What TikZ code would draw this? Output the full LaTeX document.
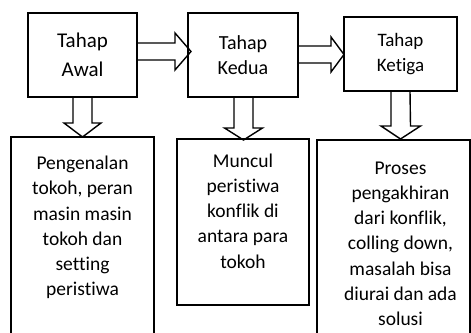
\documentclass[tikz,border=0pt]{standalone}
\usepackage{fontspec}
\setmainfont{Carlito}[Ligatures={NoCommon,NoRequired,NoContextual,NoRare,NoDiscretionary}]
\usetikzlibrary{calc}
\begin{document}
\begin{tikzpicture}[x=1pt,y=-1pt,
  box/.style={draw,line width=1.4pt,inner sep=0pt,outer sep=0pt,anchor=north west,align=center},
  txt/.style={align=center,inner sep=0pt,font=\fontsize{19.5}{25.2}\selectfont},
  blk/.style={draw,line width=1.4pt,line join=miter}]
\useasboundingbox (0,0) rectangle (471,332);
% upper boxes
\node[box,minimum width=109pt,minimum height=84pt,font=\fontsize{21}{29}\selectfont] (b1) at (28,13) {Tahap\\Awal};
\node[box,minimum width=110pt,minimum height=84pt,font=\fontsize{20}{25}\selectfont] (b2) at (188,13) {Tahap\\Kedua};
\node[box,minimum width=113pt,minimum height=74pt,font=\fontsize{19}{25}\selectfont] (b3) at (344,17) {Tahap\\Ketiga};
% lower boxes
\node[box,minimum width=143pt,minimum height=210pt] (b4) at (11,137) {};
\node[box,minimum width=132pt,minimum height=166pt] (b5) at (177,139) {};
\node[box,minimum width=153pt,minimum height=210pt] (b6) at (317,140) {};
% texts of lower boxes
\node[txt] (t4) at (82.5,227.5) {Pengenalan\\tokoh, peran\\masin masin\\tokoh dan\\setting\\peristiwa};
\node[txt] (t5) at (243,211) {Muncul\\peristiwa\\konflik di\\antara para\\tokoh};
\node[txt] (t6) at (400.5,243.7) {Proses\\pengakhiran\\dari konflik,\\colling down,\\masalah bisa\\diurai dan ada\\solusi};
% horizontal block arrows
\draw[blk] ($(b1.east)+(0,-12)$) -- ++(38,0) -- ++(0,-10) -- ($(b1.east)+(54,-3.5)$)
  -- ($(b1.east)+(38,15)$) -- ++(0,-10) -- ($(b1.east)+(0,5)$);
\draw[blk] ($(b2.east)+(0,-9)$) -- ++(33,0) -- ++(0,-9) -- ($(b2.east)+(46,-0.5)$)
  -- ($(b2.east)+(33,17)$) -- ++(0,-9) -- ($(b2.east)+(0,8)$);
% vertical block arrows
\draw[blk] ($(b1.south)+(-9.5,0)$) -- ++(0,26) -- ++(-9,0) -- ($(b1.south)+(0,40)$)
  -- ($(b1.south)+(18.5,26)$) -- ++(-9,0) -- ($(b1.south)+(9.5,0)$);
\draw[blk] ($(b2.south)+(-9,0)$) -- ++(0,31) -- ++(-9.5,0) -- ($(b2.south)+(0.5,43)$)
  -- ($(b2.south)+(19.5,31)$) -- ++(-9.5,0) -- ($(b2.south)+(10,0)$);
\draw[blk] ($(b3.south)+(-9.5,0)$) -- ++(0,35) -- ++(-10,0) -- ($(b3.south)+(0,48)$)
  -- ($(b3.south)+(20,35)$) -- ++(-10,0) -- ($(b3.south)+(9.5,0)$);
\end{tikzpicture}
\end{document}
